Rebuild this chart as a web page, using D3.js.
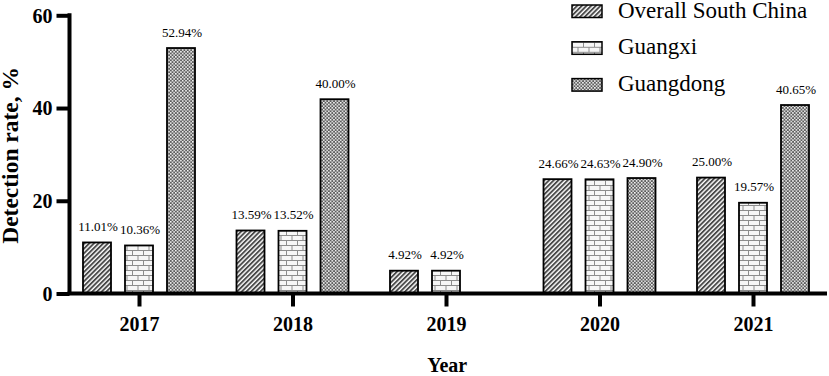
<!DOCTYPE html>
<html>
<head>
<meta charset="utf-8">
<script src="https://cdn.jsdelivr.net/npm/d3@7"></script>
<style>
  html, body { margin: 0; padding: 0; background: #fff; }
  svg { display: block; }
  text { font-family: "Liberation Serif", "Times New Roman", serif; fill: #000; }
</style>
</head>
<body>
<svg id="chart" width="829" height="376"></svg>
<script>
const years = ["2017", "2018", "2019", "2020", "2021"];
const seriesNames = ["Overall South China", "Guangxi", "Guangdong"];
const overall = [11.01, 13.59, 4.92, 24.66, 25.00];
const guangxi = [10.36, 13.52, 4.92, 24.63, 19.57];
const guangdong = [52.94, 41.9, null, 24.90, 40.65];
const overallLabels = ["11.01%", "13.59%", "4.92%", "24.66%", "25.00%"];
const guangxiLabels = ["10.36%", "13.52%", "4.92%", "24.63%", "19.57%"];
const guangdongLabels = ["52.94%", "40.00%", "", "24.90%", "40.65%"];
const yTicks = [0, 20, 40, 60];

const seriesValues = [overall, guangxi, guangdong];
const seriesLabels = [overallLabels, guangxiLabels, guangdongLabels];
const patternIds = ["pat-diag", "pat-brick", "pat-dots"];

const svg = d3.select("#chart");
const W = 829, H = 376;
const axisX = 69.5, axisY = 293.5, topY = 15.3;

const y = d3.scaleLinear().domain([0, 60]).range([axisY, topY]);
const x = d3.scalePoint().domain(years).range([139, 753]);
const xs = d3.scaleBand().domain(seriesNames).range([-63, 63]).paddingInner(1/3).paddingOuter(1/6);

// patterns
const defs = svg.append("defs");
const pd = defs.append("pattern").attr("id", "pat-diag").attr("patternUnits", "userSpaceOnUse")
  .attr("width", 3.3).attr("height", 10).attr("patternTransform", "rotate(45)");
pd.append("rect").attr("width", 3.3).attr("height", 10).attr("fill", "#ffffff");
pd.append("rect").attr("width", 1.9).attr("height", 10).attr("fill", "#4a4a4a");

const pb = defs.append("pattern").attr("id", "pat-brick").attr("patternUnits", "userSpaceOnUse")
  .attr("width", 11).attr("height", 10);
pb.append("rect").attr("width", 11).attr("height", 10).attr("fill", "#f6f6f6");
pb.append("path").attr("d", "M0,0.5H11M0,5.5H11M0.5,0.5V5.5M6,5.5V10")
  .attr("stroke", "#8c8c8c").attr("stroke-width", 1).attr("fill", "none");

const pdots = defs.append("pattern").attr("id", "pat-dots").attr("patternUnits", "userSpaceOnUse")
  .attr("width", 3.4).attr("height", 3.4);
pdots.append("rect").attr("width", 3.4).attr("height", 3.4).attr("fill", "#5c5c5c");
pdots.append("rect").attr("x", 0).attr("y", 0).attr("width", 1.5).attr("height", 1.5).attr("fill", "#ffffff");
pdots.append("rect").attr("x", 1.7).attr("y", 1.7).attr("width", 1.5).attr("height", 1.5).attr("fill", "#ffffff");

// bars
const barData = [];
seriesNames.forEach((s, si) => {
  years.forEach((yr, i) => {
    const v = seriesValues[si][i];
    if (v !== null) barData.push({ s, si, yr, v, label: seriesLabels[si][i] });
  });
});

svg.append("g").selectAll("rect").data(barData).join("rect")
  .attr("x", d => x(d.yr) + xs(d.s))
  .attr("y", d => y(d.v))
  .attr("width", xs.bandwidth())
  .attr("height", d => y(0) - y(d.v))
  .attr("fill", d => `url(#${patternIds[d.si]})`)
  .attr("stroke", "#000").attr("stroke-width", 1.8);

svg.append("g").selectAll("text").data(barData.filter(d => d.label)).join("text")
  .attr("x", d => x(d.yr) + xs(d.s) + xs.bandwidth() / 2 + 1)
  .attr("y", d => y(d.v) - 11.5)
  .attr("text-anchor", "middle")
  .style("font-size", "13px")
  .text(d => d.label);

// y axis
const yAxis = svg.append("g").attr("transform", `translate(${axisX},0)`)
  .call(d3.axisLeft(y).tickValues(yTicks).tickSize(13).tickSizeOuter(0).tickPadding(4));
yAxis.select(".domain").attr("stroke", "#000").attr("stroke-width", 4).attr("d", `M0,${topY - 2}V${axisY}`);
yAxis.selectAll(".tick line").attr("stroke", "#000").attr("stroke-width", 4);
yAxis.selectAll(".tick text").style("font-family", "'Liberation Serif', serif")
  .style("font-size", "20px").style("font-weight", "bold").attr("dy", "0.34em");

// x axis
const xAxis = svg.append("g").attr("transform", `translate(0,${axisY})`)
  .call(d3.axisBottom(x).tickSize(13).tickPadding(10));
xAxis.select(".domain").remove();
xAxis.selectAll(".tick line").attr("stroke", "#000").attr("stroke-width", 4);
xAxis.selectAll(".tick text").style("font-family", "'Liberation Serif', serif")
  .style("font-size", "20px").style("font-weight", "bold");
svg.append("line").attr("x1", axisX - 2).attr("x2", 827).attr("y1", axisY).attr("y2", axisY)
  .attr("stroke", "#000").attr("stroke-width", 4);

// axis titles
svg.append("text").attr("x", (axisX + 827) / 2 - 1).attr("y", 372)
  .attr("text-anchor", "middle").style("font-size", "20px").style("font-weight", "bold").text("Year");
svg.append("text").attr("transform", `translate(18,${(axisY + topY) / 2 + 1}) rotate(-90)`)
  .attr("text-anchor", "middle").style("font-size", "23.5px").style("font-weight", "bold").text("Detection rate, %");

// legend
const legend = svg.append("g").selectAll("g").data(seriesNames).join("g")
  .attr("transform", (d, i) => `translate(572,${5 + i * 36.8})`);
legend.append("rect").attr("width", 30).attr("height", 12.5)
  .attr("fill", (d, i) => `url(#${patternIds[i]})`).attr("stroke", "#000").attr("stroke-width", 1.5);
legend.append("text").attr("x", 46).attr("y", 12.5).style("font-size", "23px").text(d => d);
</script>
</body>
</html>
